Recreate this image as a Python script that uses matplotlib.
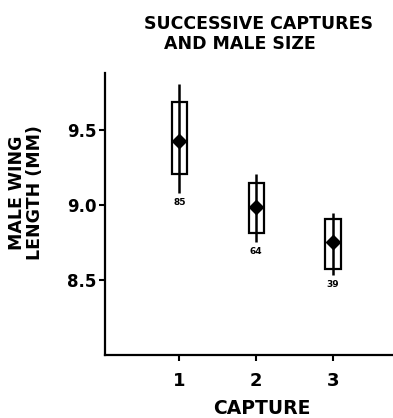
import numpy as np
import matplotlib.pyplot as plt

captures = [1, 2, 3]
means = [9.43, 8.99, 8.75]
box_low = [9.21, 8.81, 8.57]
box_high = [9.69, 9.15, 8.91]
whisk_low = [9.08, 8.75, 8.53]
whisk_high = [9.81, 9.21, 8.95]
counts = ["85", "64", "39"]

plt.rcParams['font.family'] = 'DejaVu Sans'
plt.rcParams['font.weight'] = 'bold'

fig = plt.figure(figsize=(3.93, 4.18), dpi=100)
ax = fig.add_axes([0.267, 0.151, 0.733, 0.674])

box_w = 0.2
for x, m, bl, bh, wl, wh, n in zip(captures, means, box_low, box_high,
                                   whisk_low, whisk_high, counts):
    ax.plot([x, x], [wl, wh], color='black', lw=1.8, solid_capstyle='butt')
    ax.add_patch(plt.Rectangle((x - box_w / 2, bl), box_w, bh - bl,
                               fill=False, edgecolor='black', lw=1.6))
    ax.plot(x, m, marker='D', color='black', markersize=7)
    ax.text(x, wl - 0.03, n, ha='center', va='top', fontsize=6.5,
            fontweight='bold')

ax.set_xlim(0.03, 3.78)
ax.set_ylim(8.0, 9.88)
ax.set_xticks(captures)
ax.set_yticks([8.5, 9.0, 9.5])
ax.set_yticklabels(['8.5', '9.0', '9.5'])
ax.tick_params(axis='both', direction='out', length=4, width=1.5)
ax.tick_params(axis='y', labelsize=12, pad=2)
ax.tick_params(axis='x', labelsize=13, pad=8)
for lab in ax.get_xticklabels() + ax.get_yticklabels():
    lab.set_fontweight('bold')

ax.spines['top'].set_visible(False)
ax.spines['right'].set_visible(False)
ax.spines['left'].set_linewidth(1.6)
ax.spines['bottom'].set_linewidth(1.6)

ax.set_xlabel('CAPTURE', fontsize=13.5, fontweight='bold')
ax.xaxis.set_label_coords(0.545, -0.158)
fig.text(0.066, 0.54, 'MALE WING\nLENGTH (MM)', rotation=90, ha='center',
         va='center', fontsize=12.5, fontweight='bold', linespacing=0.95)
fig.text(0.659, 0.943, 'SUCCESSIVE CAPTURES', ha='center',
         va='center', fontsize=12.5, fontweight='bold')
fig.text(0.611, 0.894, 'AND MALE SIZE', ha='center',
         va='center', fontsize=12.5, fontweight='bold')

fig.savefig('out.png', dpi=100)
